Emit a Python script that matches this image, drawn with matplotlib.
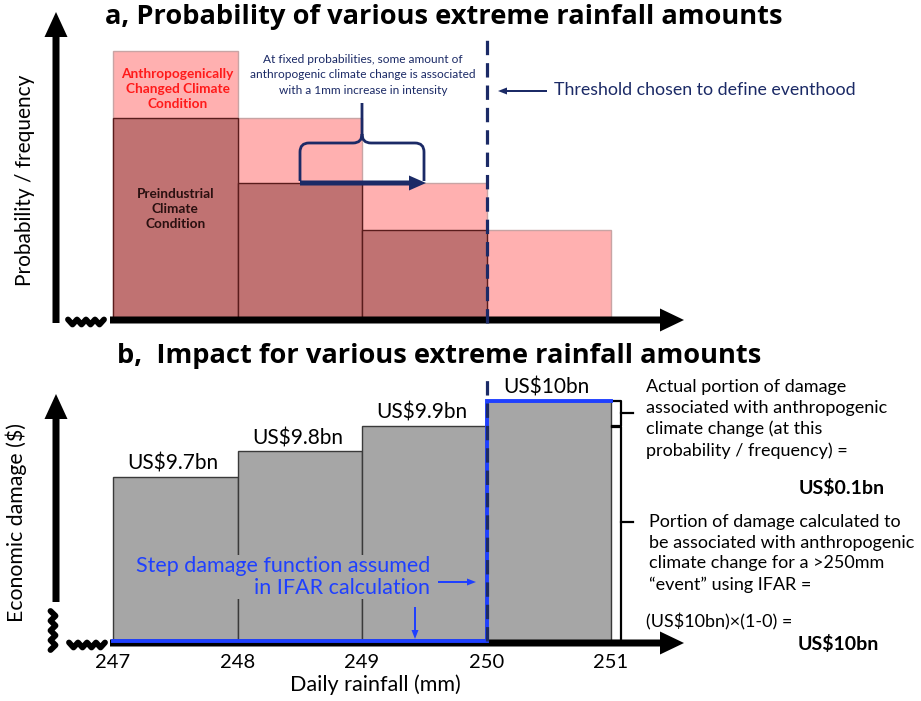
import matplotlib.pyplot as plt
from matplotlib.path import Path
from matplotlib.patches import PathPatch
import numpy as np

plt.rcParams['font.family'] = ['Lato', 'DejaVu Sans']

# data
bin_left = [247, 248, 249, 250]
tick_vals = [247, 248, 249, 250, 251]
prob_changed = [2.67, 2.00, 1.35, 0.88]
prob_preind = [2.00, 1.35, 0.88, 0.0]
damage_bn = [9.7, 9.8, 9.9, 10.0]
damage_labels = ['US$9.7bn', 'US$9.8bn', 'US$9.9bn', 'US$10bn']
threshold = 250
step_x = [247, 250, 250, 251]
step_y = [0, 0, 10, 10]

BREAK = 9.05          # value sitting on the broken damage axis
NAVY = '#1b2a66'
BLUE = '#1f40ff'
PINK = '#ffb0b0'
ROSE = '#c07272'
GREY = '#a6a6a6'

W, H = 921, 701
fig = plt.figure(figsize=(W / 100, H / 100), dpi=100)

# pixel helpers (reference image coords, y down)
def xd(px):
    return 247 + (px - 113) / 124.5

def ya(py):
    return (318 - py) / 100

def yb(py):
    return BREAK + (641 - py) / 253

def fx(px):
    return px / W

def fy(py):
    return 1 - py / H

ax_a = fig.add_axes([0, 1 - 340 / H, 1, 340 / H])
ax_a.set_xlim(xd(0), xd(W))
ax_a.set_ylim(ya(340), ya(0))
ax_a.axis('off')

ax_b = fig.add_axes([0, 0, 1, 361 / H])
ax_b.set_xlim(xd(0), xd(W))
ax_b.set_ylim(yb(701), yb(340))
ax_b.axis('off')


def harrow(ax, yconv, x0, x1, y, w, hw, hl, color, z=6):
    # horizontal arrow, pixel inputs
    ppy = abs(yconv(0) - yconv(1))
    ax.arrow(xd(x0), yconv(y), xd(x1) - xd(x0), 0, width=w * ppy,
             head_width=hw * ppy, head_length=hl / 124.5,
             length_includes_head=True, color=color, lw=0, zorder=z)


def varrow(ax, yconv, x, y0, y1, w, hw, hl, color, z=6):
    ax.arrow(xd(x), yconv(y0), 0, yconv(y1) - yconv(y0), width=w / 124.5,
             head_width=hw / 124.5, head_length=hl * abs(yconv(0) - yconv(1)),
             length_includes_head=True, color=color, lw=0, zorder=z)


def zigzag(ax, yconv, x0, x1, y0, y1, amp, n):
    t = np.linspace(0, 1, 2 * n + 1)
    sign = np.where(np.arange(2 * n + 1) % 2 == 0, -1, 1)
    if y0 == y1:
        xs = x0 + (x1 - x0) * t
        ys = y0 + amp * sign
    else:
        ys = y0 + (y1 - y0) * t
        xs = x0 + amp * sign
    ax.plot([xd(v) for v in xs], [yconv(v) for v in ys], color='black',
            lw=4.2, solid_joinstyle='round', solid_capstyle='round',
            zorder=6)


# ---------------- panel a ----------------
ax_a.bar(bin_left, prob_changed, width=1, align='edge', color=PINK,
         edgecolor='#c8a4a4', lw=1, zorder=1)
ax_a.bar(bin_left, prob_preind, width=1, align='edge', color=ROSE,
         edgecolor='#5a1c1c', lw=1, zorder=2)

ax_a.plot([threshold, threshold], [ya(323), ya(37)], color=NAVY, lw=2.3,
          ls=(0, (4.5, 2.5)), zorder=7)

varrow(ax_a, ya, 56, 323, 12, 7, 23, 25, 'black')
harrow(ax_a, ya, 110, 684, 320, 7, 23, 24, 'black')
zigzag(ax_a, ya, 68, 104, 322, 322, 2.5, 4)

ax_a.text(bin_left[0] + 0.52, ya(89),
          'Anthropogenically\nChanged Climate\nCondition',
          color='#ff1a1a', fontsize=9.8, fontweight='bold', ha='center',
          va='center', linespacing=1.35, zorder=5)
ax_a.text(bin_left[0] + 0.5, ya(209), 'Preindustrial\nClimate\nCondition',
          color='#2a1010', fontsize=9.8, fontweight='bold', ha='center',
          va='center', linespacing=1.35, zorder=5)

ax_a.text(xd(363), ya(75),
          'At fixed probabilities, some amount of\n'
          'anthropogenic climate change is associated\n'
          'with a 1mm increase in intensity',
          color=NAVY, fontsize=8.6, ha='center', va='center',
          linespacing=1.45, zorder=5)

# curly brace spanning 1mm
y_bot, y_mid, y_top = ya(181), ya(143), ya(103)
r = 9
verts = [
    (xd(300), y_bot), (xd(300), ya(143 + r)),
    (xd(300), y_mid), (xd(300 + r), y_mid),
    (xd(362 - r), y_mid),
    (xd(362), y_mid), (xd(362), ya(143 - r)),
    (xd(362), y_top),
    (xd(362), ya(143 - r)),
    (xd(362), y_mid), (xd(362 + r), y_mid),
    (xd(424 - r), y_mid),
    (xd(424), y_mid), (xd(424), ya(143 + r)),
    (xd(424), y_bot),
]
codes = [Path.MOVETO, Path.LINETO, Path.CURVE3, Path.CURVE3, Path.LINETO,
         Path.CURVE3, Path.CURVE3, Path.LINETO, Path.MOVETO, Path.CURVE3,
         Path.CURVE3, Path.LINETO, Path.CURVE3, Path.CURVE3, Path.LINETO]
ax_a.add_patch(PathPatch(Path(verts, codes), fill=False, edgecolor=NAVY,
                         lw=2, zorder=5))
harrow(ax_a, ya, 300, 426, 183, 5, 15, 17, NAVY)

harrow(ax_a, ya, 547, 498, 91, 2, 7, 9, NAVY)
ax_a.text(xd(554), ya(90), 'Threshold chosen to define eventhood',
          color=NAVY, fontsize=12.8, ha='left', va='center')

# ---------------- panel b ----------------
heights = [v - BREAK for v in damage_bn]
ax_b.bar(bin_left, heights, bottom=BREAK, width=1, align='edge',
         color=GREY, edgecolor='#3a3a3a', lw=1, zorder=1)
for x, v, lab in zip(bin_left, damage_bn, damage_labels):
    ax_b.text(x + 0.48, v + 3 / 253, lab, fontsize=15, ha='center',
              va='bottom', zorder=5)

step_plot = [max(v, BREAK) for v in step_y]
ax_b.plot(step_x, step_plot, color=BLUE, lw=2.8, zorder=7,
          solid_joinstyle='miter')
ax_b.plot([threshold, threshold], [yb(641), yb(374)], color=NAVY, lw=2.3,
          ls=(0, (4.5, 2.5)), zorder=8)

varrow(ax_b, yb, 56, 602, 394, 7, 23, 25, 'black')
harrow(ax_b, yb, 110, 684, 643, 7, 23, 24, 'black', z=5)
zigzag(ax_b, yb, 69, 105, 645, 645, 2.5, 4)
zigzag(ax_b, yb, 53, 53, 611, 650, 2.5, 4)

ax_b.text(xd(430), yb(577), 'Step damage function assumed\nin IFAR calculation',
          color=BLUE, fontsize=15.5, ha='right', va='center', linespacing=1.1,
          zorder=6, bbox=dict(facecolor=GREY, edgecolor='none', pad=1))
harrow(ax_b, yb, 438, 476, 582, 2, 7, 9, BLUE)
varrow(ax_b, yb, 415, 607, 639, 2, 7, 9, BLUE)

for t in tick_vals:
    ax_b.text(t, yb(662), str(t), fontsize=14.5, ha='center', va='center')
ax_b.text(xd(375), yb(685), 'Daily rainfall (mm)', fontsize=15.5,
          ha='center', va='center')

# brackets on the right of the 250-251 bar
xb, xh, xt = xd(621), xd(612), xd(633)
ax_b.plot([xh, xb, xb, xh], [damage_bn[3], damage_bn[3], damage_bn[2], damage_bn[2]],
          color='black', lw=1.6, zorder=6)
ax_b.plot([xb, xt], [(damage_bn[3] + damage_bn[2]) / 2] * 2, color='black', lw=1.6)
ax_b.plot([xh, xb, xb, xh], [damage_bn[2] - 0.004, damage_bn[2] - 0.004, BREAK, BREAK],
          color='black', lw=1.6, zorder=6)
ax_b.plot([xb, xt], [yb(522)] * 2, color='black', lw=1.6)

fig.text(fx(646), fy(379),
         'Actual portion of damage\nassociated with anthropogenic\n'
         'climate change (at this\nprobability / frequency) =',
         fontsize=13, ha='left', va='top', linespacing=1.36)
fig.text(fx(885), fy(488), 'US$0.1bn', fontsize=14, fontweight='bold',
         ha='right', va='center')
fig.text(fx(649), fy(514),
         'Portion of damage calculated to\nbe associated with anthropogenic\n'
         'climate change for a >250mm\n\u201cevent\u201d using IFAR =',
         fontsize=13, ha='left', va='top', linespacing=1.36)
fig.text(fx(646), fy(622), '(US$10bn)\u00d7(1-0) =', fontsize=13,
         ha='left', va='center')
fig.text(fx(879), fy(644), 'US$10bn', fontsize=14, fontweight='bold',
         ha='right', va='center')

# titles and axis names
fig.text(fx(25), fy(180), 'Probability / frequency', fontsize=15,
         rotation=90, ha='center', va='center')
fig.text(fx(16), fy(523), 'Economic damage ($)', fontsize=15.3,
         rotation=90, ha='center', va='center')

renderer = fig.canvas.get_renderer()
for px, py, txt, target in [
        (105, 17, 'a, Probability of various extreme rainfall amounts', 677),
        (117, 356, 'b,  Impact for various extreme rainfall amounts', 643)]:
    t = fig.text(fx(px), fy(py), txt, fontsize=16, fontweight='bold',
                 family=['Open Sans', 'DejaVu Sans'], ha='left', va='center')
    w = t.get_window_extent(renderer).width
    t.set_fontsize(16 * target / w)

fig.savefig('out.png', dpi=100)
